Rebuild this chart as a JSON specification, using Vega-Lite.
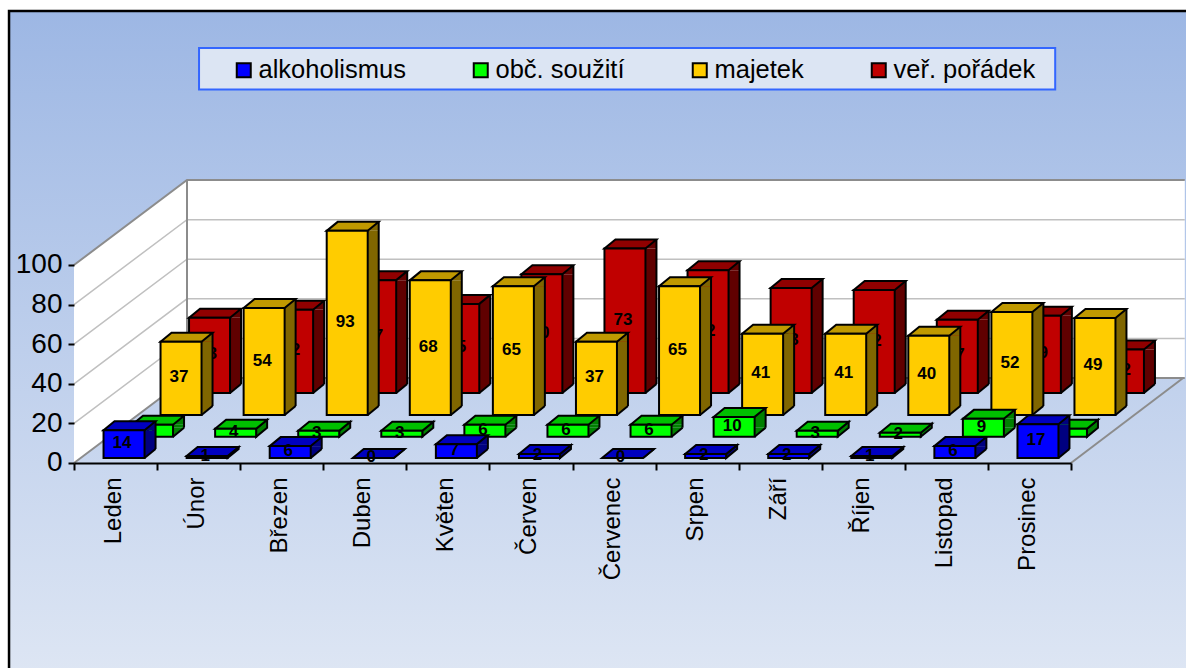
{"$schema":"https://vega.github.io/schema/vega-lite/v6.json","width":1186,"height":668,"autosize":"none","padding":0,"background":"#ffffff","config":{"view":{"stroke":null},"font":"Liberation Sans"},
"datasets":{"bars":[
{"month":"Leden","series":"alkoholismus","value":14},{"month":"Únor","series":"alkoholismus","value":1},{"month":"Březen","series":"alkoholismus","value":6},{"month":"Duben","series":"alkoholismus","value":0},{"month":"Květen","series":"alkoholismus","value":7},{"month":"Červen","series":"alkoholismus","value":2},{"month":"Červenec","series":"alkoholismus","value":0},{"month":"Srpen","series":"alkoholismus","value":2},{"month":"Září","series":"alkoholismus","value":2},{"month":"Říjen","series":"alkoholismus","value":1},{"month":"Listopad","series":"alkoholismus","value":6},{"month":"Prosinec","series":"alkoholismus","value":17},
{"month":"Leden","series":"obč. soužití","value":6},{"month":"Únor","series":"obč. soužití","value":4},{"month":"Březen","series":"obč. soužití","value":3},{"month":"Duben","series":"obč. soužití","value":3},{"month":"Květen","series":"obč. soužití","value":6},{"month":"Červen","series":"obč. soužití","value":6},{"month":"Červenec","series":"obč. soužití","value":6},{"month":"Srpen","series":"obč. soužití","value":10},{"month":"Září","series":"obč. soužití","value":3},{"month":"Říjen","series":"obč. soužití","value":2},{"month":"Listopad","series":"obč. soužití","value":9},{"month":"Prosinec","series":"obč. soužití","value":4},
{"month":"Leden","series":"majetek","value":37},{"month":"Únor","series":"majetek","value":54},{"month":"Březen","series":"majetek","value":93},{"month":"Duben","series":"majetek","value":68},{"month":"Květen","series":"majetek","value":65},{"month":"Červen","series":"majetek","value":37},{"month":"Červenec","series":"majetek","value":65},{"month":"Srpen","series":"majetek","value":41},{"month":"Září","series":"majetek","value":41},{"month":"Říjen","series":"majetek","value":40},{"month":"Listopad","series":"majetek","value":52},{"month":"Prosinec","series":"majetek","value":49},
{"month":"Leden","series":"veř. pořádek","value":38},{"month":"Únor","series":"veř. pořádek","value":42},{"month":"Březen","series":"veř. pořádek","value":57},{"month":"Duben","series":"veř. pořádek","value":45},{"month":"Květen","series":"veř. pořádek","value":60},{"month":"Červen","series":"veř. pořádek","value":73},{"month":"Červenec","series":"veř. pořádek","value":62},{"month":"Srpen","series":"veř. pořádek","value":53},{"month":"Září","series":"veř. pořádek","value":52},{"month":"Říjen","series":"veř. pořádek","value":37},{"month":"Listopad","series":"veř. pořádek","value":39},{"month":"Prosinec","series":"veř. pořádek","value":22}
]},
"layer":[
{"encoding":{"x":{"type":"quantitative","scale":{"domain":[-0.8907,13.3845],"nice":false,"zero":false},"axis":null},"y":{"type":"quantitative","title":null,"scale":{"domain":[-103.54,233.84],"nice":false,"zero":false},"axis":{"orient":"left","offset":-74,"zindex":1,"title":null,"values":[0,20,40,60,80,100],"domain":false,"grid":false,"labelFontSize":28,"labelFont":"Liberation Sans","labelColor":"#000000","labelPadding":6,"tickSize":6,"tickWidth":2,"tickColor":"#000000"}}},
"layer":[
{"data":{"values":[{}]},"mark":{"type":"rect","fill":{"gradient":"linear","x1":0,"y1":0,"x2":0,"y2":1,"stops":[{"offset":0,"color":"#9DB7E4"},{"offset":1,"color":"#DFE7F4"}]},"stroke":"#000000","strokeWidth":2.5},"encoding":{"x":{"datum":-0.782,"type":"quantitative"},"x2":{"datum":15},"y":{"datum":228.3,"type":"quantitative"},"y2":{"datum":-115}}},
{"data":{"values":[{}]},"mark":{"type":"rect","fill":"#DCE5F3","stroke":"#3366FF","strokeWidth":2},"encoding":{"x":{"datum":1.505,"type":"quantitative"},"x2":{"datum":11.81},"y":{"datum":209.6,"type":"quantitative"},"y2":{"datum":188.6}}},
{"data":{"values":[{"m":0,"lo":0,"hi":100},{"m":1.36,"lo":42.9,"hi":142.9},{"m":13.37,"lo":42.9,"hi":142.9}]},"mark":{"type":"area","fill":"#ffffff","opacity":1},"encoding":{"x":{"field":"m","type":"quantitative"},"y":{"field":"lo","type":"quantitative"},"y2":{"field":"hi"}}},
{"data":{"values":[{"g":20,"m":0,"v":20},{"g":20,"m":1.36,"v":62.9},{"g":20,"m":13.37,"v":62.9},{"g":40,"m":0,"v":40},{"g":40,"m":1.36,"v":82.9},{"g":40,"m":13.37,"v":82.9},{"g":60,"m":0,"v":60},{"g":60,"m":1.36,"v":102.9},{"g":60,"m":13.37,"v":102.9},{"g":80,"m":0,"v":80},{"g":80,"m":1.36,"v":122.9},{"g":80,"m":13.37,"v":122.9}]},"mark":{"type":"line","stroke":"#C0C0C0","strokeWidth":1.5},"encoding":{"x":{"field":"m","type":"quantitative"},"y":{"field":"v","type":"quantitative"},"detail":{"field":"g"}}},
{"data":{"values":[{"g":"a","m":0,"v":100},{"g":"a","m":1.36,"v":142.9},{"g":"a","m":13.37,"v":142.9},{"g":"b","m":1.36,"v":142.9},{"g":"b","m":1.36,"v":42.9},{"g":"c","m":0,"v":0},{"g":"c","m":1.36,"v":42.9},{"g":"c","m":13.37,"v":42.9},{"g":"d","m":12,"v":0},{"g":"d","m":13.35,"v":42.9}]},"mark":{"type":"line","stroke":"#8C8C8C","strokeWidth":2},"encoding":{"x":{"field":"m","type":"quantitative"},"y":{"field":"v","type":"quantitative"},"detail":{"field":"g"}}}
]},
{"layer":[
{"data":{"name":"bars"},"transform":[{"filter":"datum.series==='veř. pořádek'"}],
"encoding":{"x":{"field":"month","type":"nominal","sort":null,"title":null,"scale":{"type":"band","domain":["Leden","Únor","Březen","Duben","Květen","Červen","Červenec","Srpen","Září","Říjen","Listopad","Prosinec"],"range":[74,1071],"paddingInner":0,"paddingOuter":0},"axis":{"orient":"bottom","offset":-205,"zindex":1,"title":null,"labelAngle":-90,"labelFontSize":24,"labelFont":"Liberation Sans","labelColor":"#000000","labelPadding":7,"labelOffset":-2,"tickSize":7,"tickWidth":2,"tickColor":"#000000","domainColor":"#000000","domainWidth":2,"tickBand":"extent","labelOverlap":false}},"y":{"field":"value","type":"quantitative","stack":null}},
"layer":[
{"mark":{"type":"bar","width":11,"fill":"#600000","xOffset":120,"yOffset":-70,"y2Offset":-79},"encoding":{"y2":{"datum":0}}},
{"mark":{"type":"point","shape":"M20.5 0L31.5 -9L31.5 0Z","size":4,"filled":true,"fill":"#600000","opacity":1,"xOffset":94,"yOffset":-70}},
{"mark":{"type":"point","shape":"M20.5 0L31.5 -9L20.5 -9Z","size":4,"filled":true,"fill":"#600000","opacity":1,"xOffset":94,"yOffset":-70},"encoding":{"y":{"datum":0,"type":"quantitative"}}},
{"mark":{"type":"rule","stroke":"#000000","strokeWidth":2,"xOffset":125.5,"yOffset":-79,"y2Offset":-79},"encoding":{"y2":{"datum":0}}},
{"mark":{"type":"point","shape":"M20.5 0L31.5 -9","size":4,"filled":false,"stroke":"#000000","strokeWidth":2,"opacity":1,"xOffset":94,"yOffset":-70},"encoding":{"y":{"datum":0,"type":"quantitative"}}},
{"mark":{"type":"point","shape":"M-20.5 0L20.5 0L31.5 -9L-9.5 -9Z","size":4,"filled":true,"fill":"#900000","stroke":"#000000","strokeWidth":2,"opacity":1,"xOffset":94,"yOffset":-70}},
{"mark":{"type":"bar","width":41,"stroke":"#000000","strokeWidth":2,"xOffset":94,"yOffset":-70,"y2Offset":-70},"encoding":{"y2":{"datum":0},"fill":{"field":"series","type":"nominal","scale":{"domain":["alkoholismus","obč. soužití","majetek","veř. pořádek"],"range":["#0000FF","#00FF00","#FFCC00","#C00000"]},"legend":{"orient":"none","legendX":231,"legendY":57,"direction":"horizontal","columns":4,"title":null,"padding":0,"columnPadding":62,"labelFontSize":25.5,"labelFont":"Liberation Sans","labelColor":"#000000","labelOffset":2,"symbolType":"square","symbolSize":196,"symbolStrokeColor":"#000000","symbolStrokeWidth":2,"symbolOpacity":1}}}},
{"mark":{"type":"text","fontSize":17,"fontWeight":"bold","font":"Liberation Sans","color":"#000000","xOffset":92,"yOffset":-71},"encoding":{"y":{"field":"value","type":"quantitative","stack":"zero","bandPosition":0.5},"text":{"field":"value","type":"quantitative"}}}
]},
{"data":{"name":"bars"},"transform":[{"filter":"datum.series==='majetek'"}],
"encoding":{"x":{"field":"month","type":"nominal","sort":null},"y":{"field":"value","type":"quantitative","stack":null}},
"layer":[
{"mark":{"type":"bar","width":11,"fill":"#806600","xOffset":91.5,"yOffset":-48,"y2Offset":-57},"encoding":{"y2":{"datum":0}}},
{"mark":{"type":"point","shape":"M20.5 0L31.5 -9L31.5 0Z","size":4,"filled":true,"fill":"#806600","opacity":1,"xOffset":65.5,"yOffset":-48}},
{"mark":{"type":"point","shape":"M20.5 0L31.5 -9L20.5 -9Z","size":4,"filled":true,"fill":"#806600","opacity":1,"xOffset":65.5,"yOffset":-48},"encoding":{"y":{"datum":0,"type":"quantitative"}}},
{"mark":{"type":"rule","stroke":"#000000","strokeWidth":2,"xOffset":97,"yOffset":-57,"y2Offset":-57},"encoding":{"y2":{"datum":0}}},
{"mark":{"type":"point","shape":"M20.5 0L31.5 -9","size":4,"filled":false,"stroke":"#000000","strokeWidth":2,"opacity":1,"xOffset":65.5,"yOffset":-48},"encoding":{"y":{"datum":0,"type":"quantitative"}}},
{"mark":{"type":"point","shape":"M-20.5 0L20.5 0L31.5 -9L-9.5 -9Z","size":4,"filled":true,"fill":"#C09900","stroke":"#000000","strokeWidth":2,"opacity":1,"xOffset":65.5,"yOffset":-48}},
{"mark":{"type":"bar","width":41,"stroke":"#000000","strokeWidth":2,"xOffset":65.5,"yOffset":-48,"y2Offset":-48},"encoding":{"y2":{"datum":0},"fill":{"field":"series","type":"nominal"}}},
{"mark":{"type":"text","fontSize":17,"fontWeight":"bold","font":"Liberation Sans","color":"#000000","xOffset":63.5,"yOffset":-49},"encoding":{"y":{"field":"value","type":"quantitative","stack":"zero","bandPosition":0.5},"text":{"field":"value","type":"quantitative"}}}
]},
{"data":{"name":"bars"},"transform":[{"filter":"datum.series==='obč. soužití'"}],
"encoding":{"x":{"field":"month","type":"nominal","sort":null},"y":{"field":"value","type":"quantitative","stack":null}},
"layer":[
{"transform":[{"filter":"datum.value>=5"}],"mark":{"type":"bar","width":11,"fill":"#008000","xOffset":63,"yOffset":-26.3,"y2Offset":-35.3},"encoding":{"y2":{"datum":0}}},
{"transform":[{"filter":"datum.value>=5"}],"mark":{"type":"point","shape":"M20.5 0L31.5 -9L31.5 0Z","size":4,"filled":true,"fill":"#008000","opacity":1,"xOffset":37,"yOffset":-26.3}},
{"transform":[{"filter":"datum.value>=5"}],"mark":{"type":"point","shape":"M20.5 0L31.5 -9L20.5 -9Z","size":4,"filled":true,"fill":"#008000","opacity":1,"xOffset":37,"yOffset":-26.3},"encoding":{"y":{"datum":0,"type":"quantitative"}}},
{"transform":[{"filter":"datum.value>=5"}],"mark":{"type":"rule","stroke":"#000000","strokeWidth":2,"xOffset":68.5,"yOffset":-35.3,"y2Offset":-35.3},"encoding":{"y2":{"datum":0}}},
{"transform":[{"filter":"datum.value>=5"}],"mark":{"type":"point","shape":"M20.5 0L31.5 -9","size":4,"filled":false,"stroke":"#000000","strokeWidth":2,"opacity":1,"xOffset":37,"yOffset":-26.3},"encoding":{"y":{"datum":0,"type":"quantitative"}}},
{"transform":[{"filter":"datum.value<5"}],"mark":{"type":"point","size":4,"filled":true,"fill":"#008000","stroke":"#000000","strokeWidth":2,"opacity":1,"xOffset":37,"yOffset":-26.3},"encoding":{"shape":{"field":"value","type":"ordinal","legend":null,"scale":{"domain":[0,1,2,3,4],"range":["M20.5 0L31.5 -9Z","M20.5 0L31.5 -9L31.5 -7L20.5 2Z","M20.5 0L31.5 -9L31.5 -5L20.5 4Z","M20.5 0L31.5 -9L31.5 -3L20.5 6Z","M20.5 0L31.5 -9L31.5 -1L20.5 8Z"]}}}},
{"mark":{"type":"point","shape":"M-20.5 0L20.5 0L31.5 -9L-9.5 -9Z","size":4,"filled":true,"fill":"#00C000","stroke":"#000000","strokeWidth":2,"opacity":1,"xOffset":37,"yOffset":-26.3}},
{"mark":{"type":"bar","width":41,"stroke":"#000000","strokeWidth":2,"xOffset":37,"yOffset":-26.3,"y2Offset":-26.3},"encoding":{"y2":{"datum":0},"fill":{"field":"series","type":"nominal"}}},
{"mark":{"type":"text","fontSize":17,"fontWeight":"bold","font":"Liberation Sans","color":"#000000","xOffset":35,"yOffset":-27.3},"encoding":{"y":{"field":"value","type":"quantitative","stack":"zero","bandPosition":0.5},"text":{"field":"value","type":"quantitative"}}}
]},
{"data":{"name":"bars"},"transform":[{"filter":"datum.series==='alkoholismus'"}],
"encoding":{"x":{"field":"month","type":"nominal","sort":null},"y":{"field":"value","type":"quantitative","stack":null}},
"layer":[
{"transform":[{"filter":"datum.value>=5"}],"mark":{"type":"bar","width":11,"fill":"#000080","xOffset":34.5,"yOffset":-5,"y2Offset":-14},"encoding":{"y2":{"datum":0}}},
{"transform":[{"filter":"datum.value>=5"}],"mark":{"type":"point","shape":"M20.5 0L31.5 -9L31.5 0Z","size":4,"filled":true,"fill":"#000080","opacity":1,"xOffset":8.5,"yOffset":-5}},
{"transform":[{"filter":"datum.value>=5"}],"mark":{"type":"point","shape":"M20.5 0L31.5 -9L20.5 -9Z","size":4,"filled":true,"fill":"#000080","opacity":1,"xOffset":8.5,"yOffset":-5},"encoding":{"y":{"datum":0,"type":"quantitative"}}},
{"transform":[{"filter":"datum.value>=5"}],"mark":{"type":"rule","stroke":"#000000","strokeWidth":2,"xOffset":40,"yOffset":-14,"y2Offset":-14},"encoding":{"y2":{"datum":0}}},
{"transform":[{"filter":"datum.value>=5"}],"mark":{"type":"point","shape":"M20.5 0L31.5 -9","size":4,"filled":false,"stroke":"#000000","strokeWidth":2,"opacity":1,"xOffset":8.5,"yOffset":-5},"encoding":{"y":{"datum":0,"type":"quantitative"}}},
{"transform":[{"filter":"datum.value<5"}],"mark":{"type":"point","size":4,"filled":true,"fill":"#000080","stroke":"#000000","strokeWidth":2,"opacity":1,"xOffset":8.5,"yOffset":-5},"encoding":{"shape":{"field":"value","type":"ordinal","legend":null,"scale":{"domain":[0,1,2,3,4],"range":["M20.5 0L31.5 -9Z","M20.5 0L31.5 -9L31.5 -7L20.5 2Z","M20.5 0L31.5 -9L31.5 -5L20.5 4Z","M20.5 0L31.5 -9L31.5 -3L20.5 6Z","M20.5 0L31.5 -9L31.5 -1L20.5 8Z"]}}}},
{"mark":{"type":"point","shape":"M-20.5 0L20.5 0L31.5 -9L-9.5 -9Z","size":4,"filled":true,"fill":"#0000C0","stroke":"#000000","strokeWidth":2,"opacity":1,"xOffset":8.5,"yOffset":-5}},
{"mark":{"type":"bar","width":41,"stroke":"#000000","strokeWidth":2,"xOffset":8.5,"yOffset":-5,"y2Offset":-5},"encoding":{"y2":{"datum":0},"fill":{"field":"series","type":"nominal"}}},
{"mark":{"type":"text","fontSize":17,"fontWeight":"bold","font":"Liberation Sans","color":"#000000","xOffset":6.5,"yOffset":-6},"encoding":{"y":{"field":"value","type":"quantitative","stack":"zero","bandPosition":0.5},"text":{"field":"value","type":"quantitative"}}}
]}
]}
],
"resolve":{"scale":{"x":"independent"}}}
